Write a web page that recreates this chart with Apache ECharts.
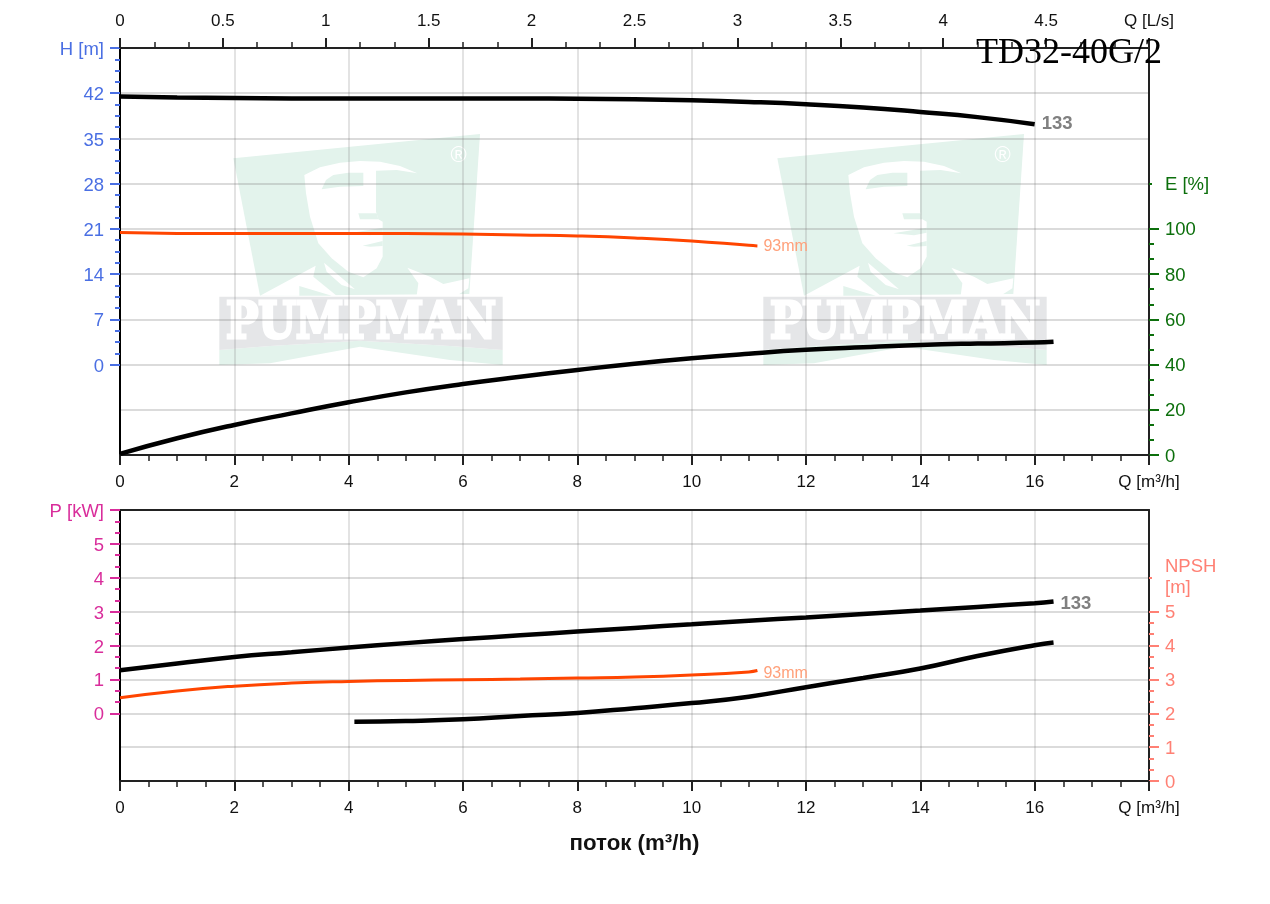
<!DOCTYPE html>
<html>
<head>
<meta charset="utf-8">
<style>html,body{margin:0;padding:0;background:#fff}#chart{width:1270px;height:904px}</style>
<script src="https://cdn.jsdelivr.net/npm/echarts@6/dist/echarts.min.js"></script>
</head>
<body>
<div id="chart"></div>
<script>
// ---- values ----
const qFull = [0,1,2,3,4,5,6,7,8,9,10,11,12,13,14,15,16];
const headBlack = [41.5,41.35,41.25,41.2,41.2,41.2,41.2,41.2,41.15,41.05,40.9,40.65,40.3,39.8,39.1,38.3,37.2];
const qOrange = [0,1,2,3,4,5,6,7,8,9,10,11,11.15];
const headOrange = [20.43,20.3,20.28,20.3,20.3,20.28,20.2,20.05,19.9,19.6,19.13,18.45,18.37];
const qLong = [0,1,2,3,4,5,6,7,8,9,10,11,12,13,14,15,16,16.33];
const effBlack = [0.5,7.4,13.3,18.4,23.3,27.7,31.4,34.6,37.6,40.4,42.8,44.8,46.5,47.7,48.7,49.3,49.7,50.1];
const powerBlack = [1.27,1.47,1.66,1.80,1.94,2.07,2.19,2.30,2.41,2.52,2.625,2.73,2.83,2.93,3.03,3.14,3.25,3.30];
const powerOrange = [0.46,0.66,0.80,0.89,0.94,0.97,0.99,1.01,1.04,1.07,1.13,1.22,1.26];
const qNpsh = [4.1,5,6,7,8,9,10,11,12,13,14,15,16,16.33];
const npshBlack = [1.75,1.77,1.82,1.92,2.01,2.15,2.30,2.49,2.77,3.04,3.32,3.69,4.01,4.09];
const headTicks = [0,7,14,21,28,35,42,49];
const effTicks = [0,20,40,60,80,100,120];
const powerTicks = [0,1,2,3,4,5,6];
const npshTicks = [0,1,2,3,4,5,6];
const labelTrimmer = '133';
const labelDiameter = '93mm';
const unitFlow = 'Q [m³/h]';
const unitFlowLs = 'Q [L/s]';
const chartTitle = 'TD32-40G/2';
const flowTitle = 'поток (m³/h)';

// ---- styling helpers ----
const FONT = '"Liberation Sans", Arial, sans-serif';
const INK = '#222';
const GRIDLINE = 'rgba(125,125,125,0.28)';
const GRIDLINE_V = 'rgba(125,125,125,0.21)';
const BLUE = '#4a6fe3', GREEN = '#0c6f0c', PINK = '#d92d9b', SALMON = '#ff8074';
const zip = (xs, ys) => xs.map((x, i) => [x, ys[i]]);
function minorsOf(major, parts) {
  const out = [];
  for (let i = 0; i < major.length - 1; i++) {
    const step = (major[i + 1] - major[i]) / parts;
    for (let k = 1; k < parts; k++) out.push(major[i] + k * step);
  }
  return out;
}
function lineSeries(xIdx, yIdx, data, color, width, label) {
  const s = {
    type: 'line', xAxisIndex: xIdx, yAxisIndex: yIdx, data: data,
    showSymbol: false, symbol: 'none', smooth: 0.5, clip: false, silent: true,
    lineStyle: { color: color, width: width, cap: 'butt' }, z: 5
  };
  if (label) s.endLabel = Object.assign({ show: true, fontFamily: FONT, distance: 6 }, label);
  return s;
}
function gridAxis(gi, min, max, step) {
  return { type: 'value', gridIndex: gi, min: min, max: max, interval: step, position: 'left',
    axisLine: { show: false }, axisTick: { show: false }, axisLabel: { show: false },
    splitLine: { show: true, lineStyle: { color: GRIDLINE, width: 2 } } };
}
function tickAxis(gi, pos, min, max, values, len, width, color) {
  return { type: 'value', gridIndex: gi, min: min, max: max, position: pos,
    axisLine: { show: false }, axisLabel: { show: false }, splitLine: { show: false },
    axisTick: { show: true, length: len, customValues: values, lineStyle: { color: color, width: width } } };
}
function labelAxis(gi, pos, min, max, values, color, topVal, topText, labelValues) {
  return { type: 'value', gridIndex: gi, min: min, max: max, position: pos,
    axisLine: { show: true, onZero: false, lineStyle: { color: pos === 'left' ? '#000' : INK, width: 2 } },
    splitLine: { show: false },
    axisTick: { show: true, length: 10, customValues: values, lineStyle: { color: color, width: 2 } },
    axisLabel: { show: true, customValues: labelValues, color: color, fontFamily: FONT, fontSize: 18.5, margin: 16,
      verticalAlign: 'top', lineHeight: pos === 'left' ? 4 : 3,
      formatter: v => (v === topVal ? topText : String(v)) } };
}
function xBottom(gi, name) {
  const a = { type: 'value', gridIndex: gi, position: 'bottom', min: 0, max: 18, interval: 2,
    axisLine: { show: true, onZero: false, lineStyle: { color: INK, width: 2 } },
    axisTick: { show: true, length: 10, lineStyle: { color: INK, width: 2 } },
    minorTick: { show: true, splitNumber: 4, length: 6, lineStyle: { color: INK, width: 1.5 } },
    axisLabel: { show: true, color: '#111', fontFamily: FONT, fontSize: 17, margin: 19, showMinLabel: true, showMaxLabel: true,
      formatter: v => (v === 18 ? unitFlow : String(v)) },
    splitLine: { show: true, lineStyle: { color: GRIDLINE_V, width: 2 } } };
  if (name) Object.assign(a, { name: name, nameLocation: 'middle', nameGap: 52,
    nameTextStyle: { color: '#111', fontFamily: FONT, fontSize: 22.3, fontWeight: 'bold' } });
  return a;
}

// ---- watermark (decoration behind the grid) ----
const L_GREEN = '#e3f3ec', L_GRAY = '#e5e6e8';
const shield = [[100,85],[840,12],[808,492],[180,497]];
const face = [[313,135],[360,112],[420,98],[480,93],[540,95],[600,108],[652,130],[590,120],[528,122],[528,245],[535,268],[548,275],[548,380],[530,415],[490,442],[445,425],[395,385],[355,340],[330,260],[318,190]];
const eye = [[365,178],[378,150],[400,135],[445,128],[490,128],[490,168],[420,170]];
const nose = [[475,250],[530,250],[535,268],[480,268]];
const mouth = [[448,310],[548,293],[548,308],[510,316]];
const lip = [[488,347],[548,333],[548,348],[510,350]];
const shoulderL = [[180,497],[347,407],[340,440],[410,497]];
const wedgeL = [[298,468],[298,497],[395,497]];
const collarL = [[372,398],[465,478],[425,465],[380,425]];
const shoulderR = [[622,413],[690,440],[730,462],[808,445],[805,475],[770,497],[650,497],[655,460]];
const band = [[58,500],[908,500],[908,660],[750,648],[480,632],[210,648],[58,660]];
const ribbon = [[58,660],[210,648],[480,632],[750,648],[908,660],[908,705],[750,690],[480,650],[210,700],[58,705]];
function logo(dx) {
  const map = pts => pts.map(p => [200 + p[0] / 3 + dx, 130 + p[1] / 3]);
  const poly = (pts, fill) => ({ type: 'polygon', z: -10, silent: true, shape: { points: map(pts) }, style: { fill: fill } });
  return [
    poly(shield, L_GREEN), poly(face, '#fff'), poly(eye, L_GREEN), poly(nose, L_GREEN), poly(mouth, L_GREEN), poly(lip, L_GREEN),
    poly(shoulderL, '#fff'), poly(wedgeL, L_GREEN), poly(collarL, '#fff'), poly(shoulderR, '#fff'),
    poly(ribbon, L_GREEN), poly(band, L_GRAY),
    { type: 'text', z: -9, silent: true, x: 361 + dx, y: 325, scaleX: 0.86,
      style: { text: 'PUMPMAN', font: 'bold 50px "DejaVu Serif"', fill: '#fff', stroke: '#fff', lineWidth: 3, textAlign: 'center', textVerticalAlign: 'middle' } },
    { type: 'text', z: -9, silent: true, x: 458.5 + dx, y: 155.5,
      style: { text: '®', font: '22px "Liberation Sans"', fill: '#fff', textAlign: 'center', textVerticalAlign: 'middle' } }
  ];
}

const npshNumbers = npshTicks.slice(0, 6);
const npshLabelAxis = labelAxis(1, 'right', 0, 8, npshNumbers, SALMON, 6, '', npshNumbers);
const npshUnitAxis = tickAxis(1, 'right', 0, 8, [6], 3, 2, SALMON);
npshUnitAxis.axisLabel = { show: true, customValues: [6], color: SALMON, fontFamily: FONT, fontSize: 18.5, margin: 16, lineHeight: 21,
  formatter: () => 'NPSH\n[m]' };

const option = {
  animation: false,
  backgroundColor: '#fff',
  title: { text: chartTitle, left: 976, top: 36, padding: 0,
    textStyle: { fontFamily: '"Liberation Serif", serif', fontSize: 36, fontWeight: 'normal', color: '#000' }, z: 20 },
  graphic: { elements: logo(0).concat(logo(544)) },
  grid: [
    { left: 120, top: 48, width: 1029, height: 407 },
    { left: 120, top: 510, width: 1029, height: 271 }
  ],
  xAxis: [
    xBottom(0),
    { type: 'value', gridIndex: 0, position: 'top', min: 0, max: 5, interval: 0.5,
      axisLine: { show: true, onZero: false, lineStyle: { color: INK, width: 2 } },
      axisTick: { show: true, length: 10, lineStyle: { color: INK, width: 2 } },
      minorTick: { show: true, splitNumber: 3, length: 6, lineStyle: { color: INK, width: 1.5 } },
      splitLine: { show: false },
      axisLabel: { show: true, color: '#111', fontFamily: FONT, fontSize: 17, margin: 18, showMinLabel: true, showMaxLabel: true,
        formatter: v => (v === 5 ? unitFlowLs : String(v)) } },
    xBottom(1, flowTitle),
    { type: 'value', gridIndex: 1, position: 'top', min: 0, max: 18,
      axisLine: { show: true, onZero: false, lineStyle: { color: INK, width: 2 } },
      axisTick: { show: false }, axisLabel: { show: false }, splitLine: { show: false } }
  ],
  yAxis: [
    gridAxis(0, -14, 49, 7),                                                 // 0 H grid
    labelAxis(0, 'left', -14, 49, headTicks, BLUE, 49, 'H [m]', headTicks),  // 1
    tickAxis(0, 'left', -14, 49, minorsOf(headTicks, 4), 5, 2, BLUE),        // 2
    labelAxis(0, 'right', 0, 180, effTicks.slice(0, 6), GREEN, 120, 'E [%]', effTicks), // 3 E
    tickAxis(0, 'right', 0, 180, minorsOf(effTicks.slice(0, 6), 3), 5, 2, GREEN),       // 4
    tickAxis(0, 'right', 0, 180, [120], 3, 2, GREEN),                        // 5
    gridAxis(1, -2, 6, 1),                                                   // 6 P grid
    labelAxis(1, 'left', -2, 6, powerTicks, PINK, 6, 'P [kW]', powerTicks),  // 7
    tickAxis(1, 'left', -2, 6, minorsOf(powerTicks, 3), 5, 2, PINK),         // 8
    npshLabelAxis,                                                           // 9 NPSH
    tickAxis(1, 'right', 0, 8, minorsOf(npshNumbers, 3), 5, 2, SALMON),      // 10
    npshUnitAxis                                                             // 11
  ],
  series: [
    lineSeries(0, 0, zip(qFull, headBlack), '#000', 4.5,
      { formatter: labelTrimmer, color: '#808080', fontWeight: 'bold', fontSize: 18.5, offset: [1, 0] }),
    lineSeries(0, 0, zip(qOrange, headOrange), '#ff4500', 3,
      { formatter: labelDiameter, color: '#ffa07a', fontSize: 16, offset: [0, 1] }),
    lineSeries(0, 3, zip(qLong, effBlack), '#000', 4.5),
    lineSeries(2, 6, zip(qLong, powerBlack), '#000', 4.5,
      { formatter: labelTrimmer, color: '#808080', fontWeight: 'bold', fontSize: 18.5, offset: [1, 2] }),
    lineSeries(2, 6, zip(qOrange, powerOrange), '#ff4500', 3,
      { formatter: labelDiameter, color: '#ffa07a', fontSize: 16, offset: [0, 3] }),
    lineSeries(2, 9, zip(qNpsh, npshBlack), '#000', 4.5)
  ]
};
echarts.init(document.getElementById('chart'), null, { renderer: 'canvas' }).setOption(option);
</script>
</body>
</html>
